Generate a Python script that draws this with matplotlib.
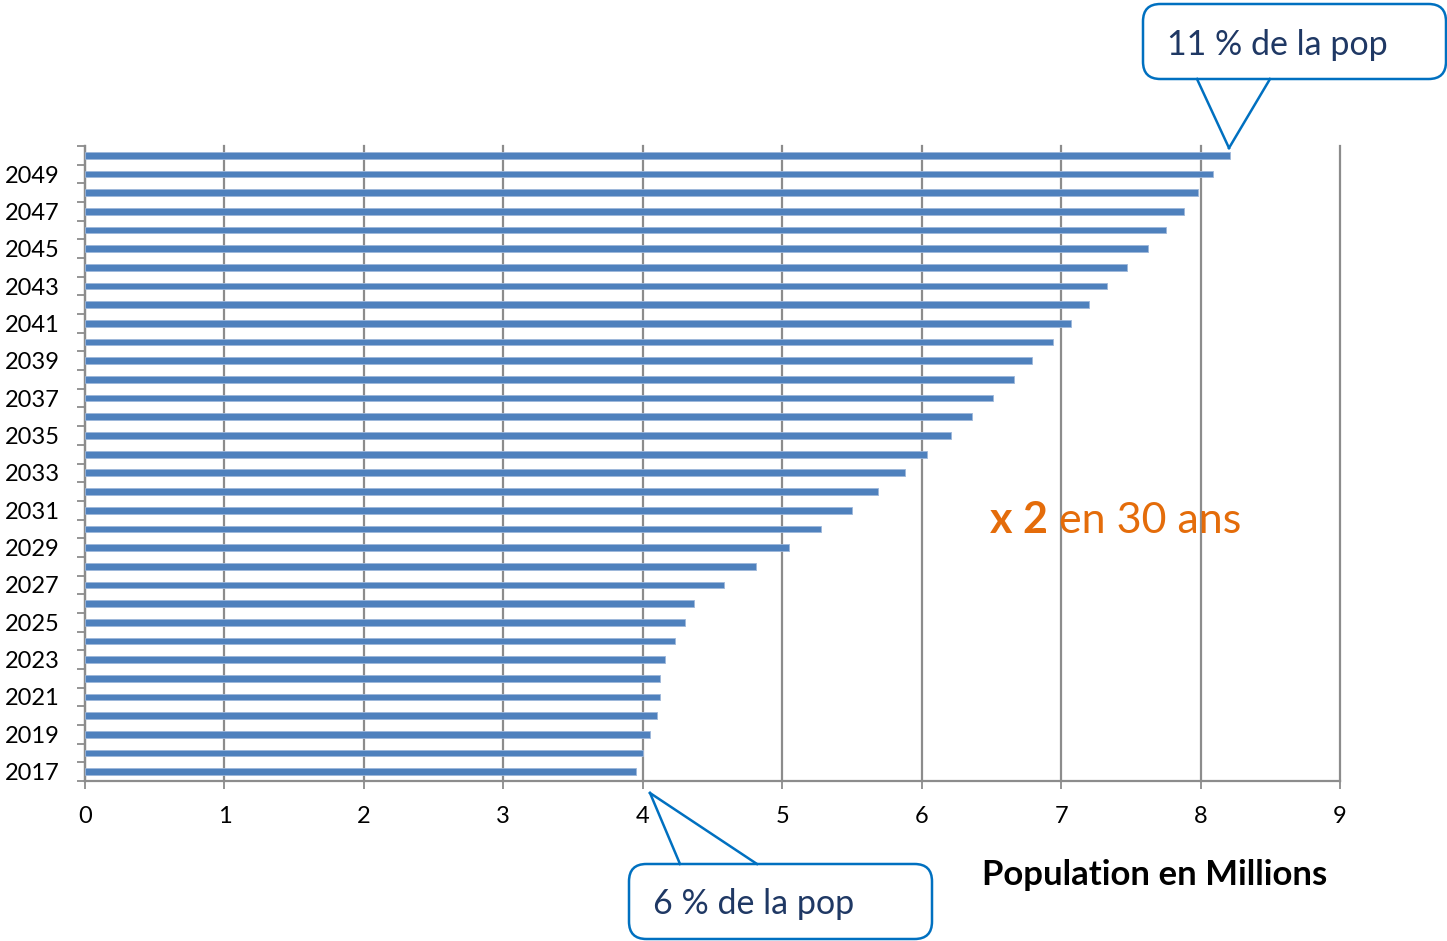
import matplotlib
matplotlib.use("Agg")
import matplotlib.pyplot as plt
from matplotlib.patches import FancyBboxPatch, Polygon
from matplotlib.lines import Line2D

# Données (millions de personnes)
years = list(range(2017, 2051))
population = [3.95, 4.00, 4.05, 4.10, 4.12, 4.12, 4.16, 4.23, 4.30, 4.37,
              4.58, 4.81, 5.05, 5.28, 5.50, 5.69, 5.88, 6.04, 6.21, 6.36,
              6.51, 6.66, 6.79, 6.94, 7.07, 7.20, 7.33, 7.47, 7.62, 7.75,
              7.88, 7.98, 8.09, 8.21]
x_ticks = list(range(0, 10))
label_years = years[::2]

W, H = 1447, 941
BAR = "#4F81BD"
GRID = "#8C8C8C"
CALLOUT = "#0070C0"
CALLOUT_TEXT = "#1F3864"
ORANGE = "#E46C0A"

plt.rcParams["font.family"] = ["Lato", "DejaVu Sans"]

fig = plt.figure(figsize=(W / 100, H / 100), dpi=100)
ax = fig.add_axes([85 / W, 1 - 781 / H, (1340 - 85) / W, (781 - 146) / H])

ax.barh(years, population, height=0.36, color=BAR, edgecolor="#9DB7DA",
        linewidth=0.6, zorder=3)

ax.set_xlim(0, 9)
ax.set_ylim(years[0] - 0.5, years[-1] + 0.5)
ax.set_xticks(x_ticks)
ax.set_xticklabels([str(v) for v in x_ticks], fontsize=17)
ax.set_yticks(label_years)
ax.set_yticklabels([str(y) for y in label_years], fontsize=17)
ax.set_yticks([y - 0.5 for y in years] + [years[-1] + 0.5], minor=True)

ax.tick_params(axis="y", which="major", length=0, pad=18)
ax.tick_params(axis="y", which="minor", length=6, width=1.3, color=GRID)
ax.tick_params(axis="x", which="major", length=6, width=1.3, color=GRID, pad=12)

ax.grid(axis="x", color=GRID, linewidth=1.6, zorder=0)
for gl in ax.get_xgridlines():
    gl.set_clip_on(False)
for side in ["top", "right"]:
    ax.spines[side].set_visible(False)
for side in ["left", "bottom"]:
    ax.spines[side].set_color(GRID)
    ax.spines[side].set_linewidth(1.6)


def callout(x0, y0, x1, y1, base_a, base_b, tip):
    """Bulle arrondie avec pointe, en pixels figure (origine en haut)."""
    to_fig = lambda px, py: (px / W, 1 - py / H)
    bx, by = to_fig(x0, y1)
    box = FancyBboxPatch((bx, by), (x1 - x0) / W, (y1 - y0) / H,
                         boxstyle="round,pad=0,rounding_size=0.012",
                         transform=fig.transFigure, facecolor="white",
                         edgecolor=CALLOUT, linewidth=1.8, zorder=5,
                         mutation_aspect=W / H)
    fig.add_artist(box)
    base_y = base_a[1]
    inside = base_y + (4 if tip[1] > base_y else -4)
    pts = [to_fig(base_a[0] + 1, inside), to_fig(*tip), to_fig(base_b[0] - 1, inside)]
    fig.add_artist(Polygon(pts, closed=True, transform=fig.transFigure,
                           facecolor="white", edgecolor="none", zorder=6))
    for a in (base_a, base_b):
        p, q = to_fig(*a), to_fig(*tip)
        fig.add_artist(Line2D([p[0], q[0]], [p[1], q[1]], transform=fig.transFigure,
                              color=CALLOUT, linewidth=1.8, zorder=7))


callout(1143, 4, 1446, 79, (1197, 79), (1270, 79), (1229, 148))
fig.text(1167 / W, 1 - 55 / H, "11 % de la pop", fontsize=24.5,
         color=CALLOUT_TEXT, va="baseline", zorder=8)

callout(629, 864, 932, 939, (680, 864), (757, 864), (650, 793))
fig.text(653 / W, 1 - 914 / H, "6 % de la pop", fontsize=24.5,
         color=CALLOUT_TEXT, va="baseline", zorder=8)

t1 = fig.text(990 / W, 1 - 533 / H, "x 2", fontsize=31, color=ORANGE,
              fontweight="bold", va="baseline")
ax.annotate(" en 30 ans", xy=(1, 0), xycoords=t1, va="bottom", ha="left",
            fontsize=31, color=ORANGE)

fig.text(982 / W, 1 - 885 / H, "Population en Millions", fontsize=25,
         fontweight="bold", color="black", va="baseline")

fig.savefig("out.png", dpi=100)
